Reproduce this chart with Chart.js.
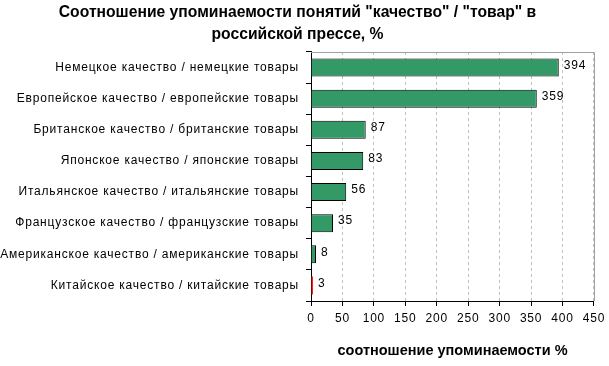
<!DOCTYPE html>
<html>
<head>
<meta charset="utf-8">
<script src="https://cdn.jsdelivr.net/npm/chart.js@4/dist/chart.umd.min.js"></script>
<style>
  html, body { margin: 0; padding: 0; background: #fff; }
  #wrap { width: 609px; height: 366px; }
</style>
</head>
<body>
<div id="wrap"><canvas id="chart" width="609" height="366"></canvas></div>
<script>
const categories = [
	'Немецкое качество / немецкие товары',
	'Европейское качество / европейские товары',
	'Британское качество / британские товары',
	'Японское качество / японские товары',
	'Итальянское качество / итальянские товары',
	'Французское качество / французские товары',
	'Американское качество / американские товары',
	'Китайское качество / китайские товары'
];
const values = [394, 359, 87, 83, 56, 35, 8, 3];
const titleLines = ['Соотношение упоминаемости понятий "качество" / "товар" в', 'российской прессе, %'];
const axisTitle = 'соотношение упоминаемости %';

const FONT = '"Liberation Sans", Arial, sans-serif';

// bar colours: all green, the last one red (no outline, it is only 2px wide)
const lastIdx = values.length - 1;
const barColors = values.map((v, i) => i == lastIdx ? '#ff0000' : '#339966');
const barBorderWidths = values.map((v, i) => i == lastIdx ? 0 : 1);

// gray frame on top/right of the plot area, like Excel
const frame = {
	id: 'frame',
	beforeDatasetsDraw(chart) {
		const {ctx, chartArea: a} = chart;
		ctx.save();
		ctx.strokeStyle = '#a0a0a0';
		ctx.lineWidth = 1;
		ctx.beginPath();
		ctx.moveTo(a.left, Math.round(a.top) + 0.5);
		ctx.lineTo(Math.round(a.right) + 0.5, Math.round(a.top) + 0.5);
		ctx.lineTo(Math.round(a.right) + 0.5, a.bottom);
		ctx.stroke();
		ctx.restore();
	}
};

// the old excel font is spaced out a bit; tick labels are drawn after the
// datasets (ticks.z = 1) so this only hits labels, not the chart title
const spacing = {
	id: 'spacing',
	afterDatasetsDraw(chart) { chart.ctx.letterSpacing = '0.8px'; },
	afterDraw(chart) { chart.ctx.letterSpacing = '0px'; }
};

// value labels to the right of each bar
const valueLabels = {
	id: 'valueLabels',
	afterDatasetsDraw(chart) {
		const {ctx} = chart;
		const meta = chart.getDatasetMeta(0);
		ctx.save();
		ctx.font = '12px ' + FONT;
		ctx.fillStyle = '#000';
		ctx.textAlign = 'left';
		ctx.textBaseline = 'middle';
		meta.data.forEach((bar, i) => {
			ctx.fillText(String(values[i]), bar.x + 5, bar.y - 2);
		});
		ctx.restore();
	}
};

new Chart(document.getElementById('chart').getContext('2d'), {
	type: 'bar',
	data: {
		labels: categories,
		datasets: [{
			data: values,
			backgroundColor: barColors,
			borderColor: '#000',
			borderWidth: barBorderWidths,
			barPercentage: 0.58,
			categoryPercentage: 1
		}]
	},
	options: {
		indexAxis: 'y',
		responsive: false,
		animation: false,
		layout: { padding: { left: 0, right: 14, top: 0, bottom: 3 } },
		plugins: {
			legend: { display: false },
			tooltip: { enabled: false },
			title: {
				display: true,
				text: titleLines,
				color: '#000',
				font: { family: FONT, size: 15.7, weight: 'bold', lineHeight: 1.4 },
				padding: { top: 2, bottom: 6 }
			}
		},
		scales: {
			x: {
				min: 0,
				max: 450,
				afterFit(scale) { scale.height = 62; },
				ticks: {
					stepSize: 50,
					color: '#000',
					font: { family: FONT, size: 12 },
					padding: 5,
					z: 1
				},
				grid: {
					color: '#c0c0c0',
					tickColor: '#000',
					tickBorderDash: [],
					tickLength: 5
				},
				border: { color: '#000', dash: [3, 3] },
				title: {
					display: true,
					text: axisTitle,
					color: '#000',
					font: { family: FONT, size: 14.5, weight: 'bold' },
					padding: { top: 6, bottom: 3 }
				}
			},
			y: {
				afterFit(scale) { scale.width = 311; },
				ticks: {
					color: '#000',
					font: { family: FONT, size: 12 },
					padding: 7,
					autoSkip: false,
					z: 1
				},
				grid: {
					offset: true,
					drawOnChartArea: false,
					tickColor: '#000',
					tickLength: 5
				},
				border: { color: '#000' }
			}
		}
	},
	plugins: [frame, spacing, valueLabels]
});
</script>
</body>
</html>
